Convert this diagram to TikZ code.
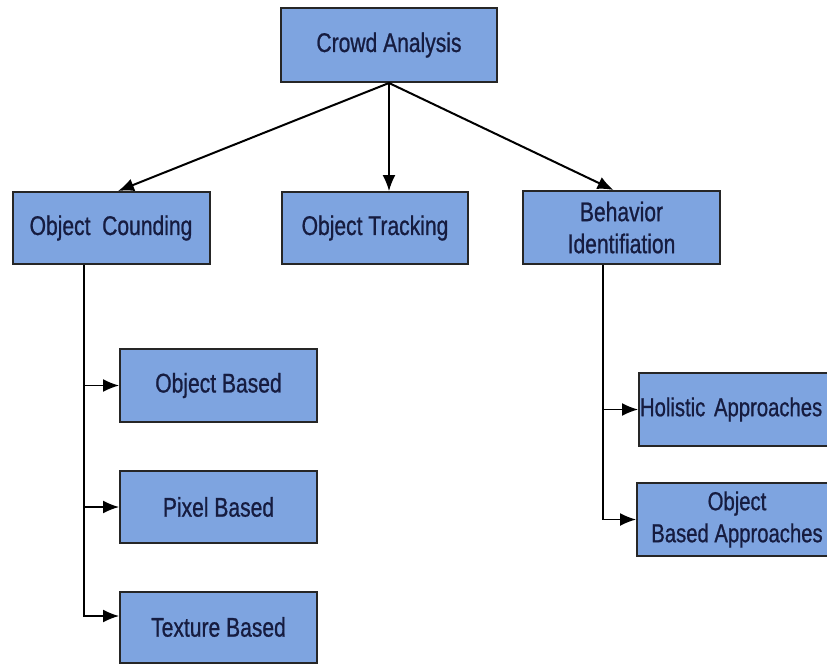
\documentclass[tikz,border=0pt]{standalone}
\usepackage{fontspec}
\setmainfont{Liberation Sans}[FakeStretch=0.78,FakeBold=0.8]
\usetikzlibrary{arrows.meta}
\definecolor{boxblue}{RGB}{126,164,224}
\definecolor{boxtext}{RGB}{22,28,64}
\tikzset{
  >={Latex[length=16pt,width=13pt]}
}

\begin{document}
\begin{tikzpicture}[x=1pt,y=-1pt,line width=2pt,
    box/.style={draw=black!85,fill=boxblue,text=boxtext,minimum width=197pt,
      minimum height=73pt,inner sep=0pt,align=center,
      font=\fontsize{27}{32}\selectfont}]
          \useasboundingbox (0,0) rectangle (827,664);
          \clip (0,0) rectangle (827,664);
          % top level
          \node[box,minimum width=216pt,minimum height=74pt] (ca) at (389,45) {Crowd Analysis};
          \node[box,minimum height=72pt] (oc) at (111,228) {Object\ \ Counding};
          \node[box,minimum width=186pt,minimum height=72pt] (ot) at (375,228) {Object Tracking};
          \node[box] (bi) at (621.5,227.5) {Behavior\\Identifiation};
          % counting branch
          \node[box] (ob) at (218.5,385.5) {Object Based};
          \node[box,minimum height=72pt] (pb) at (218.5,507) {Pixel Based};
          \node[box,minimum height=71pt] (tb) at (218.5,627) {Texture Based};
          % behaviour branch
          \node[box,text width=198pt,align=left,inner xsep=1pt,
            font=\fontsize{26}{32}\selectfont] (ha) at (739,409.5) {Holistic Approaches};
          \node[box,minimum width=200pt,font=\fontsize{26}{32}\selectfont] (oba) at (737,519.5) {Object\\Based Approaches};
          \draw[->] (ca.south) -- ([xshift=7pt]oc.north);
          \draw[->,line width=1.5pt] (ca.south) -- (ca.south |- ot.north);
          \draw[->] (ca.south) -- ([xshift=-8pt]bi.north);
          \coordinate (trunkL) at ([xshift=-27pt]oc.south);
          \coordinate (trunkR) at ([xshift=-18.5pt]bi.south);
          \draw[->,line width=1.5pt] (trunkL) |- ([yshift=11pt]tb.west);
          \draw[->,line width=1.5pt] (trunkL |- ob.west) -- (ob.west);
          \draw[->,line width=1.5pt] (trunkL |- pb.west) -- (pb.west);
          \draw[->,line width=1.5pt] (trunkR) |- (oba.west);
          \draw[->,line width=1.5pt] (trunkR |- ha.west) -- (ha.west);
        \end{tikzpicture}
\end{document}
